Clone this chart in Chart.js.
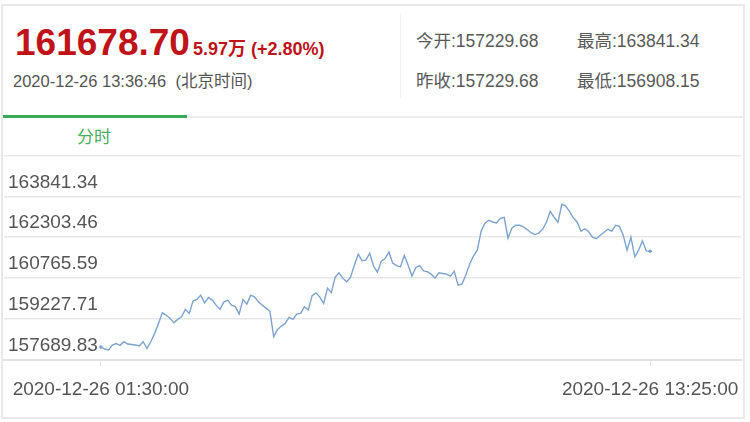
<!DOCTYPE html>
<html>
<head>
<meta charset="utf-8">
<script src="https://cdn.jsdelivr.net/npm/chart.js@4.4.0/dist/chart.umd.min.js"></script>
<style>
  body { margin: 0; background: #fff; font-family: "Liberation Sans", Arial, "Noto Sans CJK SC", sans-serif; }
  #page { position: relative; width: 750px; height: 422px; overflow: hidden; }
  .abs { position: absolute; white-space: nowrap; }
  #frame { left: 1px; top: 4px; width: 744px; height: 415px; border: 2px solid #e9e9e9; box-sizing: border-box; }
  #sep { left: 3px; top: 116px; width: 740px; height: 2px; background: #ececec; }
  #tab { left: 3px; top: 115px; width: 184px; height: 3px; background: #3aa85a; }
  #vline { left: 400px; top: 13px; width: 1px; height: 85px; background: #f2f2f2; }
  #price { left: 15px; top: 24px; font-size: 37px; line-height: 37px; font-weight: bold; color: #bf1219; }
  #change { left: 193px; top: 40px; font-size: 18px; line-height: 18px; font-weight: bold; color: #bf1219; }
  #stamp { left: 13px; top: 73px; font-size: 16.5px; line-height: 16.5px; color: #555; }
  .info { font-size: 17.5px; line-height: 17.5px; color: #595959; }
  #tabLabel { left: 77px; top: 129px; font-size: 17px; line-height: 17px; color: #4cae62; }
  #wrap { left: 0; top: 140px; width: 750px; height: 282px; }
</style>
</head>
<body>
<div id="page">
  <div class="abs" id="frame"></div>
  <div class="abs" id="vline"></div>
  <div class="abs" id="sep"></div>
  <div class="abs" id="tab"></div>
  <div class="abs" id="price"></div>
  <div class="abs" id="change"></div>
  <div class="abs" id="stamp"></div>
  <div class="abs info" id="open" style="left:416px;top:33px"></div>
  <div class="abs info" id="high" style="left:577px;top:33px"></div>
  <div class="abs info" id="prev" style="left:416px;top:73px"></div>
  <div class="abs info" id="low" style="left:577px;top:73px"></div>
  <div class="abs" id="tabLabel">分时</div>
  <div class="abs" id="wrap"><canvas id="chart"></canvas></div>
</div>
<script>
const lastPrice = '161678.70';
const changeText = '5.97万 (+2.80%)';
const stampText = '2020-12-26 13:36:46\u00a0\u00a0(北京时间)';
const openPrice = '157229.68';
const prevClose = '157229.68';
const highPrice = '163841.34';
const lowPrice = '156908.15';

const datePart = '2020-12-26';
const xTickTimes = ['01:30', '13:25'];
const yTickLabels = ['157689.83', '159227.71', '160765.59', '162303.46', '163841.34'];

const times = [
  '01:30', '01:35', '01:40', '01:45', '01:50', '01:55', '02:00', '02:05', '02:15', '02:20',
  '02:25', '02:30', '02:35', '02:40', '02:45', '02:50', '02:55', '03:00', '03:05', '03:10',
  '03:15', '03:20', '03:25', '03:30', '03:35', '03:40', '03:45', '03:50', '03:55', '04:00',
  '04:05', '04:10', '04:15', '04:20', '04:25', '04:30', '04:35', '04:40', '04:45', '04:50',
  '04:55', '05:00', '05:05', '05:10', '05:15', '05:20', '05:25', '05:30', '05:35', '05:40',
  '05:45', '05:50', '05:55', '06:00', '06:05', '06:10', '06:15', '06:20', '06:25', '06:30',
  '06:35', '06:40', '06:45', '06:50', '06:55', '07:00', '07:05', '07:10', '07:15', '07:20',
  '07:25', '07:30', '07:35', '07:40', '07:45', '07:50', '07:55', '08:00', '08:05', '08:10',
  '08:15', '08:20', '08:25', '08:30', '08:35', '08:40', '08:45', '08:50', '08:55', '09:00',
  '09:05', '09:10', '09:15', '09:20', '09:25', '09:30', '09:35', '09:40', '09:45', '09:50',
  '09:55', '10:00', '10:05', '10:10', '10:15', '10:20', '10:25', '10:30', '10:35', '10:40',
  '10:45', '10:50', '10:55', '11:00', '11:05', '11:10', '11:15', '11:20', '11:25', '11:30',
  '11:35', '11:40', '11:45', '11:50', '11:55', '12:00', '12:05', '12:10', '12:15', '12:20',
  '12:25', '12:30', '12:35', '12:40', '12:45', '12:50', '12:55', '13:00', '13:05', '13:10',
  '13:15', '13:20', '13:25'
];
const prices = [
  158177, 158102, 158065, 158253, 158309, 158241, 158376, 158290, 158253, 158215,
  158376, 158129, 158376, 158691, 159066, 159464, 159378, 159254, 159089, 159217,
  159314, 159592, 159442, 159903, 159967, 160128, 159839, 160042, 159940, 159753,
  159592, 159865, 159940, 159753, 159697, 159415, 159967, 159790, 160128, 160064,
  159877, 159753, 159640, 159528, 158564, 158841, 158965, 159066, 159292, 159217,
  159415, 159442, 159689, 159565, 160109, 160214, 160053, 159817, 160391, 160222,
  160803, 160964, 160766, 160627, 160803, 161253, 161666, 161422, 161441, 161703,
  161216, 160991, 161403, 161505, 161752, 161328, 161235, 161190, 161628, 161253,
  160841, 161167, 161235, 161039, 161010, 160916, 160766, 160964, 160942, 160916,
  160841, 161028, 160503, 160541, 160878, 161291, 161591, 161816, 162529, 162829,
  162941, 162877, 162840, 163016, 163054, 162266, 162641, 162754, 162754, 162697,
  162592, 162472, 162405, 162461, 162604, 162866, 163279, 163054, 162866, 163541,
  163485, 163279, 163035, 162877, 162529, 162622, 162510, 162304, 162247, 162379,
  162491, 162604, 162529, 162754, 162716, 162379, 161816, 162304, 161565, 161816,
  162165, 161790, 161778
];

document.getElementById('price').textContent = lastPrice;
document.getElementById('change').textContent = changeText;
document.getElementById('stamp').textContent = stampText;
document.getElementById('open').textContent = '今开:' + openPrice;
document.getElementById('prev').textContent = '昨收:' + prevClose;
document.getElementById('high').textContent = '最高:' + highPrice;
document.getElementById('low').textContent = '最低:' + lowPrice;

const toMin = t => { const [h, m] = t.split(':').map(Number); return h * 60 + m; };
const pad = n => String(n).padStart(2, '0');
const points = times.map((t, i) => ({ x: toMin(t), y: prices[i] }));

const yVals = yTickLabels.map(Number);
const yStep = yVals[1] - yVals[0];
const yMax = yVals[yVals.length - 1] + yStep;
const xTicks = xTickTimes.map(toMin);
// plot runs wider than the session: about 1.3 min per pixel, 97px before open, 91px after close
const minPerPx = (xTicks[1] - xTicks[0]) / 550;

const textColor = '#555';
const gridColor = '#e7e7e7';

new Chart(document.getElementById('chart'), {
  type: 'line',
  data: {
    datasets: [{
      data: points,
      borderColor: '#7da3cf',
      borderWidth: 1.4,
      tension: 0,
      fill: false,
      pointRadius: ctx => (ctx.dataIndex === 0 || ctx.dataIndex === points.length - 1) ? 1.8 : 0,
      pointBackgroundColor: '#7da3cf',
      pointBorderWidth: 0
    }]
  },
  options: {
    responsive: true,
    maintainAspectRatio: false,
    animation: false,
    layout: { padding: { left: 3, right: 9, top: 14, bottom: 0 } },
    plugins: { legend: { display: false }, tooltip: { enabled: false } },
    scales: {
      x: {
        type: 'linear',
        min: xTicks[0] - 97 * minPerPx,
        max: xTicks[1] + 91 * minPerPx,
        afterBuildTicks: s => { s.ticks = xTicks.map(v => ({ value: v })); },
        afterFit: s => { s.height = 62; s.paddingLeft = 0; s.paddingRight = 0; },
        grid: { drawOnChartArea: false, drawTicks: true, tickLength: 6, color: '#e2e2e2' },
        border: { display: true, color: '#e2e2e2', width: 2 },
        ticks: {
          autoSkip: false,
          maxRotation: 0,
          padding: 12,
          color: textColor,
          font: { family: '"Liberation Sans", Arial, sans-serif', size: 19 },
          callback: v => datePart + ' ' + pad(Math.floor(v / 60)) + ':' + pad(v % 60) + ':00'
        }
      },
      y: {
        min: yVals[0],
        max: yMax,
        afterBuildTicks: s => { s.ticks = yVals.concat([yMax]).map(v => ({ value: v })); },
        afterFit: s => { s.width = 0; },
        grid: { drawTicks: false, color: gridColor, lineWidth: 1.5 },
        border: { display: false },
        ticks: {
          mirror: true,
          padding: 4,
          labelOffset: -14,
          color: textColor,
          font: { family: '"Liberation Sans", Arial, sans-serif', size: 19 },
          callback: (v, i) => i < yTickLabels.length ? yTickLabels[i] : ''
        }
      }
    }
  }
});
</script>
</body>
</html>
